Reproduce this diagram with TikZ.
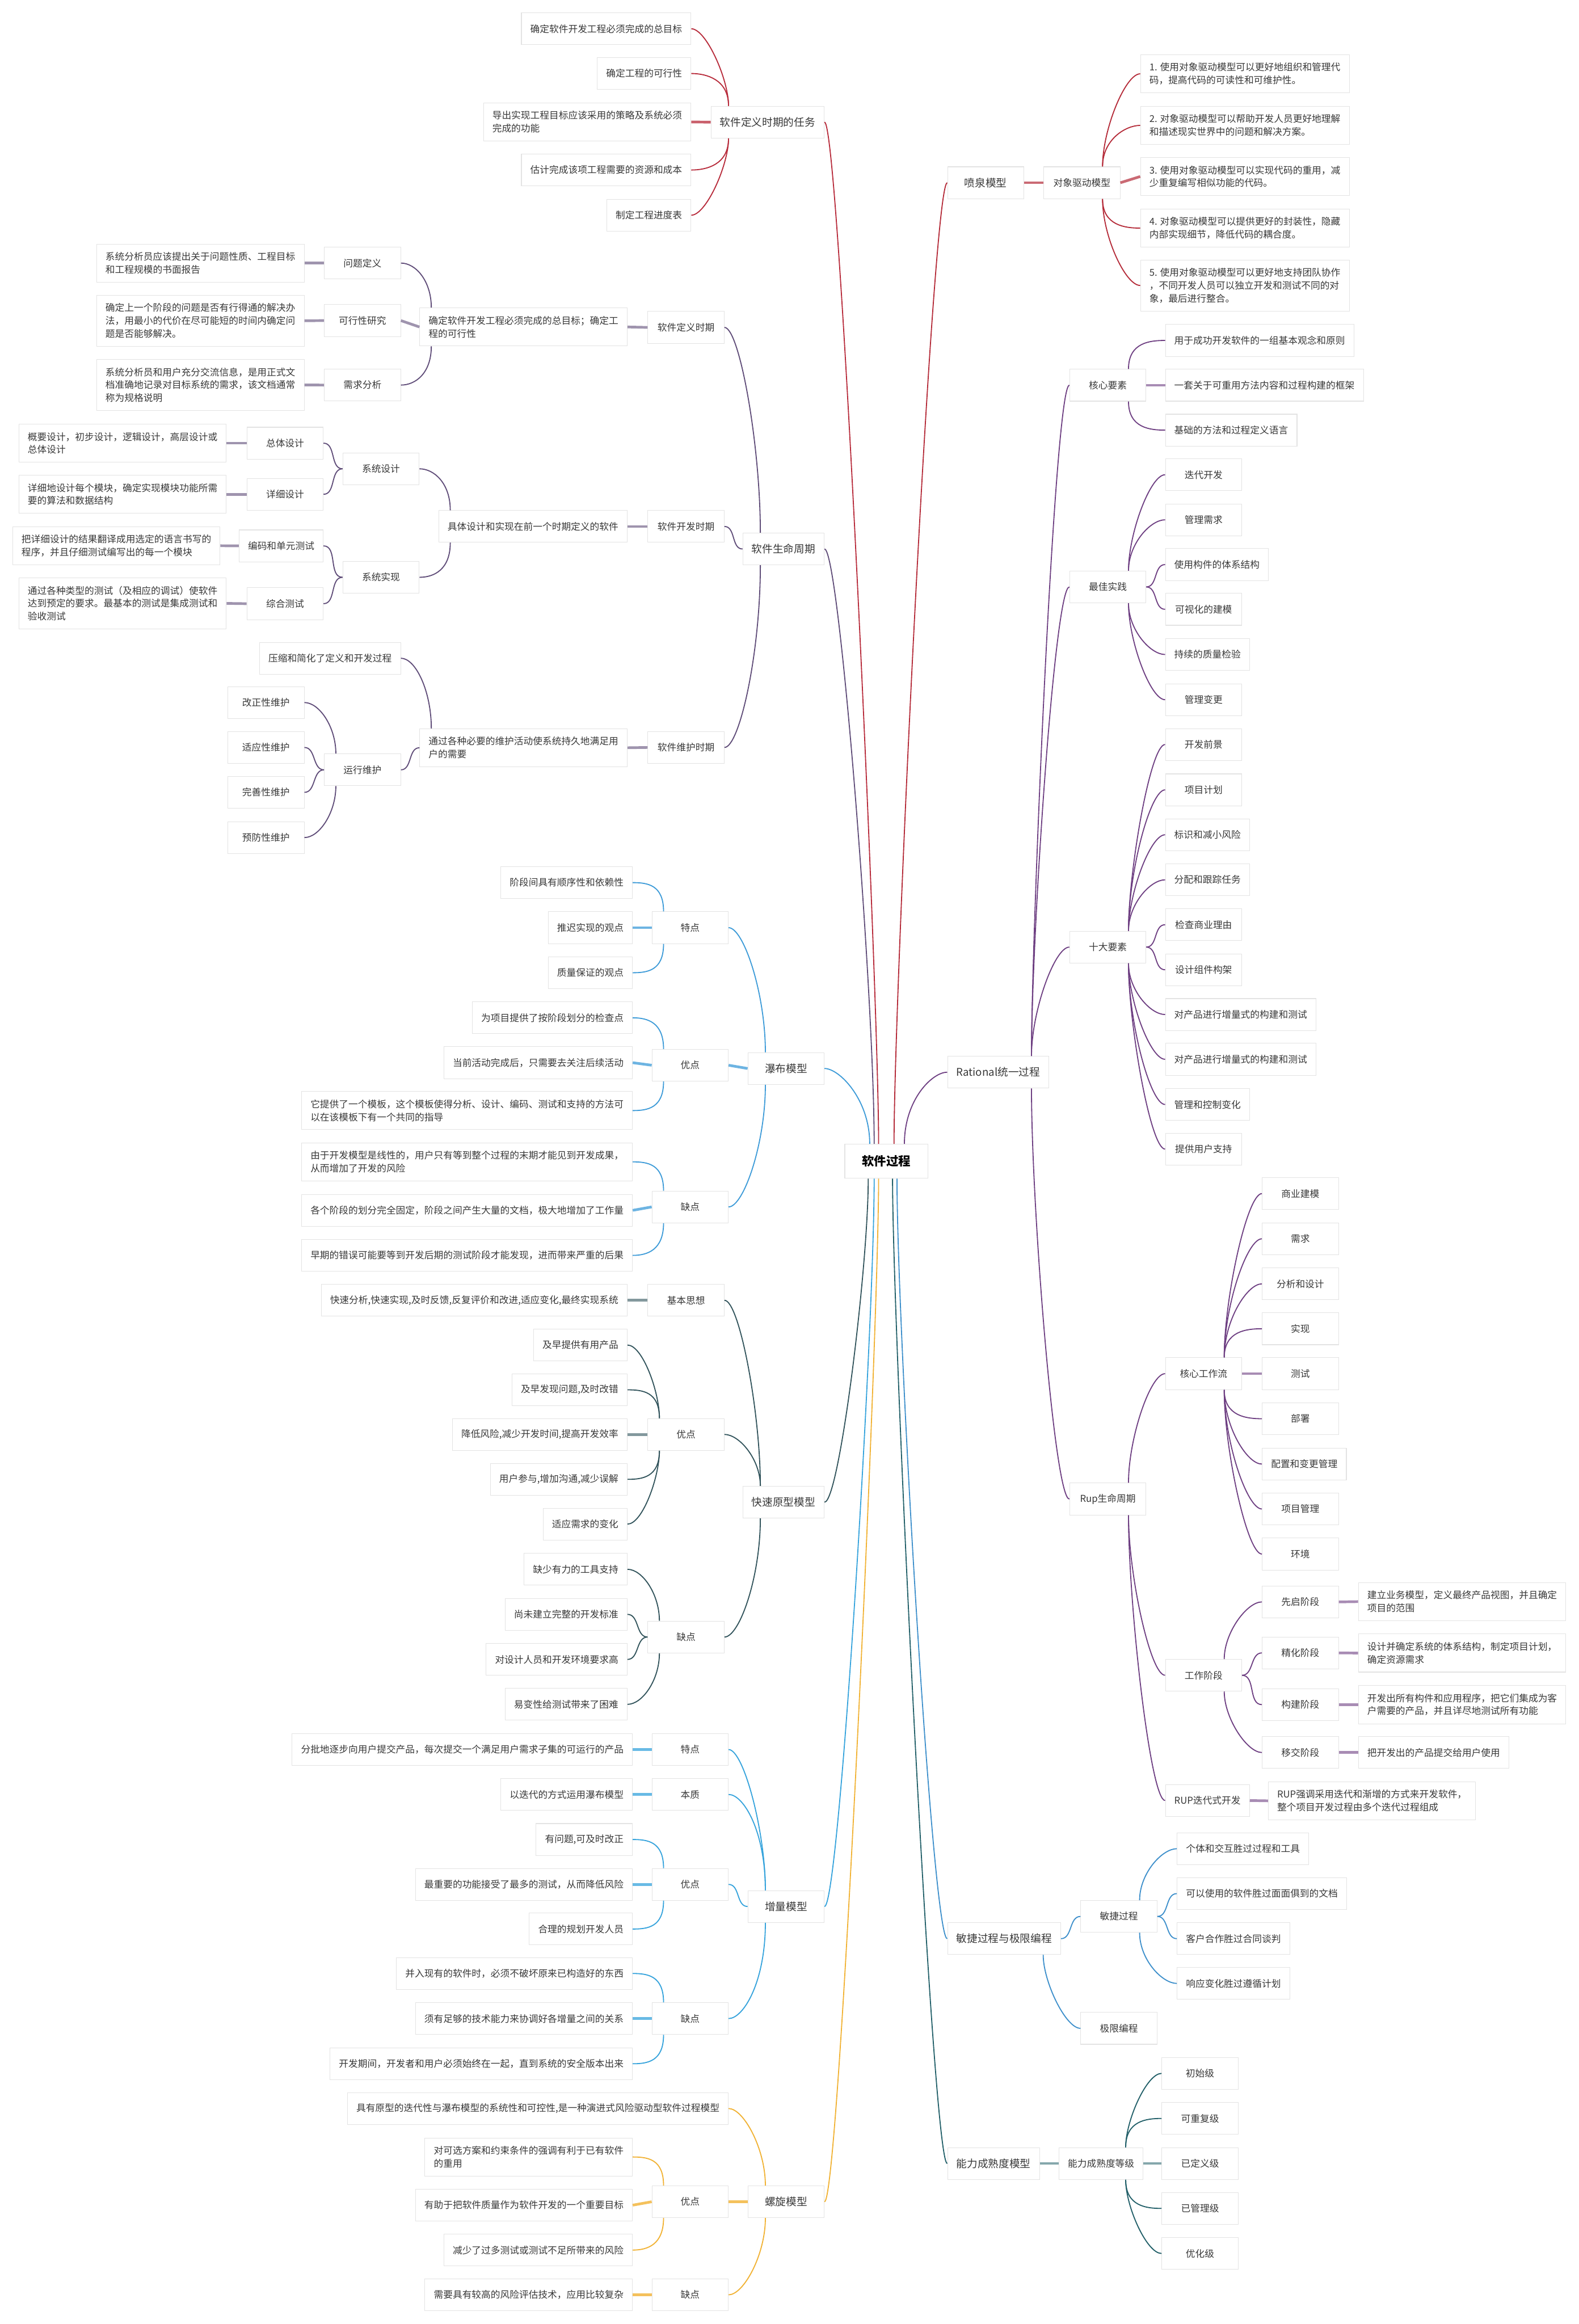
\documentclass[tikz,border=0pt]{standalone}
\usepackage{fontspec}
\newfontfamily\cjk{Noto Sans CJK SC}
\usetikzlibrary{positioning}

\definecolor{cDef}{HTML}{B72A3A}
\definecolor{cLife}{HTML}{5F4C78}
\definecolor{cWat}{HTML}{3D9BD8}
\definecolor{cProto}{HTML}{31535B}
\definecolor{cInc}{HTML}{35A3DC}
\definecolor{cSpi}{HTML}{F1B233}
\definecolor{cFou}{HTML}{B42A38}
\definecolor{cRat}{HTML}{6E3F82}
\definecolor{cAgi}{HTML}{3D8FCB}
\definecolor{cCmm}{HTML}{215F68}
\definecolor{boxln}{HTML}{E3E3E3}
\definecolor{txt}{HTML}{383838}

\begin{document}
\begin{tikzpicture}[x=1pt,y=1pt,
  nd/.style={draw=boxln,fill=white,text=txt,inner xsep=6pt,inner ysep=5.5pt,
    minimum height=21.5pt,minimum width=51.5pt,align=left,
    font=\cjk\fontsize{6.4}{8.7}\selectfont},
  br/.style={nd,font=\cjk\fontsize{7.15}{8.7}\selectfont},
  rt/.style={nd,text=black,minimum width=56pt,minimum height=23pt,
    font=\cjk\bfseries\fontsize{8.2}{9}\selectfont},
  le/.style={nd,anchor=east}, ri/.style={nd,anchor=west},
  lb/.style={br,anchor=east}, rb/.style={br,anchor=west},
  lu/.style={out=90,in=0,out distance=#1,in distance=10pt}, lu/.default=18pt,
  ld/.style={out=-90,in=0,out distance=#1,in distance=10pt}, ld/.default=18pt,
  ru/.style={out=90,in=180,out distance=#1,in distance=10pt}, ru/.default=18pt,
  rd/.style={out=-90,in=180,out distance=#1,in distance=10pt}, rd/.default=18pt,
  ln/.style={line width=0.7pt},
  thk/.style={line width=1.8pt}]
\path[use as bounding box,fill=white] (0,0) rectangle (1065,-1568);

\node[rt] (root) at (598,-783.5) {软件过程};

% software definition tasks
\node[lb] (dfn) at (556.3,-82.4) {软件定义时期的任务};
\node[le] (d1) at (466.4,-19.4) {确定软件开发工程必须完成的总目标};
\node[le] (d2) at (466.4,-49.6) {确定工程的可行性};
\node[le] (d3) at (466.4,-82.3) {导出实现工程目标应该采用的策略及系统必须\\完成的功能};
\node[le] (d4) at (466.4,-114.7) {估计完成该项工程需要的资源和成本};
\node[le] (d5) at (466.4,-145.2) {制定工程进度表};

% life cycle
\node[lb] (life) at (556.3,-370.4) {软件生命周期};
\node[le] (ldef) at (488.8,-220.9) {软件定义时期};
\node[le] (ldefx) at (423.4,-220.6) {确定软件开发工程必须完成的总目标；确定工\\程的可行性};
\node[le] (pd) at (270.5,-177.5) {问题定义};
\node[le] (pdx) at (205.4,-177.5) {系统分析员应该提出关于问题性质、工程目标\\和工程规模的书面报告};
\node[le] (fs) at (270.5,-216.3) {可行性研究};
\node[le] (fsx) at (205.4,-216.4) {确定上一个阶段的问题是否有行得通的解决办\\法，用最小的代价在尽可能短的时间内确定问\\题是否能够解决。};
\node[le] (ra) at (270.5,-259.8) {需求分析};
\node[le] (rax) at (205.4,-259.7) {系统分析员和用户充分交流信息，是用正式文\\档准确地记录对目标系统的需求，该文档通常\\称为规格说明};
\node[le] (ldev) at (488.8,-355.2) {软件开发时期};
\node[le] (ldevx) at (423.4,-355.2) {具体设计和实现在前一个时期定义的软件};
\node[le] (sd) at (283,-316.3) {系统设计};
\node[le] (od) at (218.3,-299) {总体设计};
\node[le] (odx) at (152.9,-299) {概要设计，初步设计，逻辑设计，高层设计或\\总体设计};
\node[le] (dd) at (218.3,-333.5) {详细设计};
\node[le] (ddx) at (152.9,-333.5) {详细地设计每个模块，确定实现模块功能所需\\要的算法和数据结构};
\node[le] (si) at (283,-389.5) {系统实现};
\node[le] (cu) at (218.3,-368.3) {编码和单元测试};
\node[le] (cux) at (148.7,-368.2) {把详细设计的结果翻译成用选定的语言书写的\\程序，并且仔细测试编写出的每一个模块};
\node[le] (it) at (218.3,-407.3) {综合测试};
\node[le] (itx) at (152.9,-407.1) {通过各种类型的测试（及相应的调试）使软件\\达到预定的要求。最基本的测试是集成测试和\\验收测试};
\node[le] (lmt) at (488.8,-504.3) {软件维护时期};
\node[le] (lmtx) at (423.4,-504.5) {通过各种必要的维护活动使系统持久地满足用\\户的需要};
\node[le] (cmp) at (270.5,-444.1) {压缩和简化了定义和开发过程};
\node[le] (om) at (270.5,-519.4) {运行维护};
\node[le] (m1) at (205.4,-474) {改正性维护};
\node[le] (m2) at (205.4,-504.3) {适应性维护};
\node[le] (m3) at (205.4,-534.6) {完善性维护};
\node[le] (m4) at (205.4,-565.1) {预防性维护};

% waterfall
\node[lb] (wat) at (556.3,-720.9) {瀑布模型};
\node[le] (wf) at (491.6,-625.9) {特点};
\node[le] (wf1) at (426.9,-595.5) {阶段间具有顺序性和依赖性};
\node[le] (wf2) at (426.9,-625.9) {推迟实现的观点};
\node[le] (wf3) at (426.9,-656.3) {质量保证的观点};
\node[le] (wa) at (491.6,-718.7) {优点};
\node[le] (wa1) at (426.9,-686.7) {为项目提供了按阶段划分的检查点};
\node[le] (wa2) at (426.9,-717) {当前活动完成后，只需要去关注后续活动};
\node[le] (wa3) at (426.9,-749.3) {它提供了一个模板，这个模板使得分析、设计、编码、测试和支持的方法可\\以在该模板下有一个共同的指导};
\node[le] (wd) at (491.6,-814.3) {缺点};
\node[le] (wd1) at (426.9,-783.9) {由于开发模型是线性的，用户只有等到整个过程的末期才能见到开发成果，\\从而增加了开发的风险};
\node[le] (wd2) at (426.9,-816.6) {各个阶段的划分完全固定，阶段之间产生大量的文档，极大地增加了工作量};
\node[le] (wd3) at (426.9,-847) {早期的错误可能要等到开发后期的测试阶段才能发现，进而带来严重的后果};

% rapid prototype
\node[lb] (proto) at (556.3,-1013.5) {快速原型模型};
\node[le] (pb) at (488.8,-877.3) {基本思想};
\node[le] (pb1) at (423.4,-877.3) {快速分析,快速实现,及时反馈,反复评价和改进,适应变化,最终实现系统};
\node[le] (pa) at (488.8,-967.8) {优点};
\node[le] (pa1) at (423.4,-907.5) {及早提供有用产品};
\node[le] (pa2) at (423.4,-937.7) {及早发现问题,及时改错};
\node[le] (pa3) at (423.4,-967.8) {降低风险,减少开发时间,提高开发效率};
\node[le] (pa4) at (423.4,-998.1) {用户参与,增加沟通,减少误解};
\node[le] (pa5) at (423.4,-1028.3) {适应需求的变化};
\node[le] (pw) at (488.8,-1104.5) {缺点};
\node[le] (pw1) at (423.4,-1058.8) {缺少有力的工具支持};
\node[le] (pw2) at (423.4,-1089.2) {尚未建立完整的开发标准};
\node[le] (pw3) at (423.4,-1119.6) {对设计人员和开发环境要求高};
\node[le] (pw4) at (423.4,-1149.9) {易变性给测试带来了困难};

% incremental
\node[lb] (inc) at (556.3,-1286.3) {增量模型};
\node[le] (nf) at (491.6,-1180.4) {特点};
\node[le] (nf1) at (426.9,-1180.4) {分批地逐步向用户提交产品，每次提交一个满足用户需求子集的可运行的产品};
\node[le] (ne) at (491.6,-1210.7) {本质};
\node[le] (ne1) at (426.9,-1210.7) {以迭代的方式运用瀑布模型};
\node[le] (na) at (491.6,-1271.4) {优点};
\node[le] (na1) at (426.9,-1241.1) {有问题,可及时改正};
\node[le] (na2) at (426.9,-1271.4) {最重要的功能接受了最多的测试，从而降低风险};
\node[le] (na3) at (426.9,-1301.5) {合理的规划开发人员};
\node[le] (nw) at (491.6,-1361.9) {缺点};
\node[le] (nw1) at (426.9,-1331.5) {并入现有的软件时，必须不破坏原来已构造好的东西};
\node[le] (nw2) at (426.9,-1361.9) {须有足够的技术能力来协调好各增量之间的关系};
\node[le] (nw3) at (426.9,-1392.4) {开发期间，开发者和用户必须始终在一起，直到系统的安全版本出来};

% spiral
\node[lb] (spi) at (556.3,-1485.5) {螺旋模型};
\node[le] (sx) at (491.6,-1422.6) {具有原型的迭代性与瀑布模型的系统性和可控性,是一种演进式风险驱动型软件过程模型};
\node[le] (sa) at (491.6,-1485.5) {优点};
\node[le] (sa1) at (426.9,-1455.3) {对可选方案和约束条件的强调有利于已有软件\\的重用};
\node[le] (sa2) at (426.9,-1487.8) {有助于把软件质量作为软件开发的一个重要目标};
\node[le] (sa3) at (426.9,-1518.1) {减少了过多测试或测试不足所带来的风险};
\node[le] (sw) at (491.6,-1548.3) {缺点};
\node[le] (sw1) at (426.9,-1548.3) {需要具有较高的风险评估技术，应用比较复杂};

% fountain
\node[rb] (fou) at (639.1,-123.3) {喷泉模型};
\node[ri] (obj) at (704,-123.3) {对象驱动模型};
\node[ri] (o1) at (769.3,-49.8) {1. 使用对象驱动模型可以更好地组织和管理代\\码，提高代码的可读性和可维护性。};
\node[ri] (o2) at (769.3,-84.6) {2. 对象驱动模型可以帮助开发人员更好地理解\\和描述现实世界中的问题和解决方案。};
\node[ri] (o3) at (769.3,-119.1) {3. 使用对象驱动模型可以实现代码的重用，减\\少重复编写相似功能的代码。};
\node[ri] (o4) at (769.3,-153.9) {4. 对象驱动模型可以提供更好的封装性，隐藏\\内部实现细节，降低代码的耦合度。};
\node[ri] (o5) at (769.3,-192.6) {5. 使用对象驱动模型可以更好地支持团队协作\\，不同开发人员可以独立开发和测试不同的对\\象，最后进行整合。};

% rational unified process
\node[rb] (rat) at (639.1,-723.4) {Rational统一过程};
\node[ri] (ck) at (721.5,-259.9) {核心要素};
\node[ri] (ck1) at (786.1,-229.7) {用于成功开发软件的一组基本观念和原则};
\node[ri] (ck2) at (786.1,-259.9) {一套关于可重用方法内容和过程构建的框架};
\node[ri] (ck3) at (786.1,-290.2) {基础的方法和过程定义语言};
\node[ri] (bp) at (721.5,-396) {最佳实践};
\node[ri] (bp1) at (786.1,-320.3) {迭代开发};
\node[ri] (bp2) at (786.1,-350.7) {管理需求};
\node[ri] (bp3) at (786.1,-380.9) {使用构件的体系结构};
\node[ri] (bp4) at (786.1,-411.1) {可视化的建模};
\node[ri] (bp5) at (786.1,-441.6) {持续的质量检验};
\node[ri] (bp6) at (786.1,-472.1) {管理变更};
\node[ri] (te) at (721.5,-639) {十大要素};
\node[ri] (te1) at (786.1,-502.3) {开发前景};
\node[ri] (te2) at (786.1,-532.9) {项目计划};
\node[ri] (te3) at (786.1,-563.2) {标识和减小风险};
\node[ri] (te4) at (786.1,-593.6) {分配和跟踪任务};
\node[ri] (te5) at (786.1,-623.9) {检查商业理由};
\node[ri] (te6) at (786.1,-654.3) {设计组件构架};
\node[ri] (te7) at (786.1,-684.5) {对产品进行增量式的构建和测试};
\node[ri] (te8) at (786.1,-714.7) {对产品进行增量式的构建和测试};
\node[ri] (te9) at (786.1,-745.2) {管理和控制变化};
\node[ri] (te10) at (786.1,-775.3) {提供用户支持};
\node[ri] (rup) at (721.5,-1011.4) {Rup生命周期};
\node[ri] (wfl) at (786.1,-926.8) {核心工作流};
\node[ri] (w1) at (851.4,-805.3) {商业建模};
\node[ri] (w2) at (851.4,-835.8) {需求};
\node[ri] (w3) at (851.4,-866.2) {分析和设计};
\node[ri] (w4) at (851.4,-896.5) {实现};
\node[ri] (w5) at (851.4,-926.8) {测试};
\node[ri] (w6) at (851.4,-957.2) {部署};
\node[ri] (w7) at (851.4,-987.8) {配置和变更管理};
\node[ri] (w8) at (851.4,-1018.1) {项目管理};
\node[ri] (w9) at (851.4,-1048.5) {环境};
\node[ri] (ph) at (786.1,-1130.3) {工作阶段};
\node[ri] (ph1) at (851.4,-1080.8) {先启阶段};
\node[ri] (ph1x) at (916.3,-1080.6) {建立业务模型，定义最终产品视图，并且确定\\项目的范围};
\node[ri] (ph2) at (851.4,-1115.2) {精化阶段};
\node[ri] (ph2x) at (916.3,-1115.3) {设计并确定系统的体系结构，制定项目计划，\\确定资源需求};
\node[ri] (ph3) at (851.4,-1150.1) {构建阶段};
\node[ri] (ph3x) at (916.3,-1150.1) {开发出所有构件和应用程序，把它们集成为客\\户需要的产品，并且详尽地测试所有功能};
\node[ri] (ph4) at (851.4,-1182.4) {移交阶段};
\node[ri] (ph4x) at (916.3,-1182.4) {把开发出的产品提交给用户使用};
\node[ri] (itd) at (786.1,-1214.8) {RUP迭代式开发};
\node[ri] (itdx) at (855.5,-1215) {RUP强调采用迭代和渐增的方式来开发软件，\\整个项目开发过程由多个迭代过程组成};

% agile
\node[rb] (agi) at (639.1,-1308) {敏捷过程与极限编程};
\node[ri] (ap) at (729,-1293) {敏捷过程};
\node[ri] (ap1) at (794,-1247.3) {个体和交互胜过过程和工具};
\node[ri] (ap2) at (794,-1277.6) {可以使用的软件胜过面面俱到的文档};
\node[ri] (ap3) at (794,-1308) {客户合作胜过合同谈判};
\node[ri] (ap4) at (794,-1338.2) {响应变化胜过遵循计划};
\node[ri] (xp) at (729,-1368.5) {极限编程};

% capability maturity
\node[rb] (cmm) at (639.1,-1459.7) {能力成熟度模型};
\node[ri] (cl) at (714.3,-1459.7) {能力成熟度等级};
\node[ri] (cl1) at (783.7,-1398.9) {初始级};
\node[ri] (cl2) at (783.7,-1429.3) {可重复级};
\node[ri] (cl3) at (783.7,-1459.7) {已定义级};
\node[ri] (cl4) at (783.7,-1490) {已管理级};
\node[ri] (cl5) at (783.7,-1520.4) {优化级};

% root links
\draw[cWat,ln] ([xshift=17pt]root.north west) to[lu=30pt] (wat.east);
\draw[cLife,ln] ([xshift=20pt]root.north west) to[lu=100pt] (life.east);
\draw[cDef,ln] ([xshift=23pt]root.north west) to[lu=100pt] (dfn.east);
\draw[cFou,ln] ([xshift=-23pt]root.north east) to[ru=100pt] (fou.west);
\draw[cRat,ln] ([xshift=-16pt]root.north east) to[ru=30pt] (rat.west);
\draw[cProto,ln] ([xshift=16pt]root.south west) to[ld=60pt] (proto.east);
\draw[cInc,ln] ([xshift=20pt]root.south west) to[ld=100pt] (inc.east);
\draw[cSpi,ln] ([xshift=23pt]root.south west) to[ld=100pt] (spi.east);
\draw[cAgi,ln] ([xshift=-21pt]root.south east) to[rd=100pt] (agi.west);
\draw[cCmm,ln] ([xshift=-24pt]root.south east) to[rd=100pt] (cmm.west);

% definition tasks
\draw[cDef,ln] ([xshift=12pt]dfn.north west) to[lu] (d1.east);
\draw[cDef,ln] ([xshift=12pt]dfn.north west) to[lu] (d2.east);
\draw[cDef!75,thk] (dfn.west) -- (d3.east);
\draw[cDef,ln] ([xshift=12pt]dfn.south west) to[ld] (d4.east);
\draw[cDef,ln] ([xshift=12pt]dfn.south west) to[ld] (d5.east);

% life cycle
\draw[cLife,ln] ([xshift=12pt]life.north west) to[lu=60pt] (ldef.east);
\draw[cLife,ln] (life.west) to[out=180,in=0] (ldev.east);
\draw[cLife,ln] ([xshift=12pt]life.south west) to[ld=60pt] (lmt.east);
\draw[cLife!60,thk] (ldef.west) -- (ldefx.east);
\draw[cLife,ln] ([xshift=8pt]ldefx.north west) to[lu] (pd.east);
\draw[cLife!60,thk] (ldefx.west) -- (fs.east);
\draw[cLife,ln] ([xshift=8pt]ldefx.south west) to[ld] (ra.east);
\draw[cLife!60,thk] (pd.west) -- (pdx.east);
\draw[cLife!60,thk] (fs.west) -- (fsx.east);
\draw[cLife!60,thk] (ra.west) -- (rax.east);
\draw[cLife!60,thk] (ldev.west) -- (ldevx.east);
\draw[cLife,ln] ([xshift=8pt]ldevx.north west) to[lu] (sd.east);
\draw[cLife,ln] ([xshift=8pt]ldevx.south west) to[ld] (si.east);
\draw[cLife,ln] (sd.west) to[out=180,in=0] (od.east);
\draw[cLife,ln] (sd.west) to[out=180,in=0] (dd.east);
\draw[cLife!60,thk] (od.west) -- (odx.east);
\draw[cLife!60,thk] (dd.west) -- (ddx.east);
\draw[cLife,ln] (si.west) to[out=180,in=0] (cu.east);
\draw[cLife,ln] (si.west) to[out=180,in=0] (it.east);
\draw[cLife!60,thk] (cu.west) -- (cux.east);
\draw[cLife!60,thk] (it.west) -- (itx.east);
\draw[cLife!60,thk] (lmt.west) -- (lmtx.east);
\draw[cLife,ln] ([xshift=8pt]lmtx.north west) to[lu=25pt] (cmp.east);
\draw[cLife,ln] (lmtx.west) to[out=180,in=0] (om.east);
\draw[cLife,ln] ([xshift=8pt]om.north west) to[lu] (m1.east);
\draw[cLife,ln] (om.west) to[out=180,in=0] (m2.east);
\draw[cLife,ln] (om.west) to[out=180,in=0] (m3.east);
\draw[cLife,ln] ([xshift=8pt]om.south west) to[ld] (m4.east);

% waterfall
\draw[cWat,ln] ([xshift=12pt]wat.north west) to[lu=40pt] (wf.east);
\draw[cWat!75,thk] (wat.west) -- (wa.east);
\draw[cWat,ln] ([xshift=12pt]wat.south west) to[ld=40pt] (wd.east);
\draw[cWat,ln] ([xshift=8pt]wf.north west) to[lu] (wf1.east);
\draw[cWat!75,thk] (wf.west) -- (wf2.east);
\draw[cWat,ln] ([xshift=8pt]wf.south west) to[ld] (wf3.east);
\draw[cWat,ln] ([xshift=8pt]wa.north west) to[lu] (wa1.east);
\draw[cWat!75,thk] (wa.west) -- (wa2.east);
\draw[cWat,ln] ([xshift=8pt]wa.south west) to[ld] (wa3.east);
\draw[cWat,ln] ([xshift=8pt]wd.north west) to[lu] (wd1.east);
\draw[cWat!75,thk] (wd.west) -- (wd2.east);
\draw[cWat,ln] ([xshift=8pt]wd.south west) to[ld] (wd3.east);

% rapid prototype
\draw[cProto,ln] ([xshift=12pt]proto.north west) to[lu=50pt] (pb.east);
\draw[cProto,ln] ([xshift=12pt]proto.north west) to[lu] (pa.east);
\draw[cProto,ln] ([xshift=12pt]proto.south west) to[ld=40pt] (pw.east);
\draw[cProto!60,thk] (pb.west) -- (pb1.east);
\draw[cProto,ln] ([xshift=8pt]pa.north west) to[lu] (pa1.east);
\draw[cProto,ln] ([xshift=8pt]pa.north west) to[lu] (pa2.east);
\draw[cProto!60,thk] (pa.west) -- (pa3.east);
\draw[cProto,ln] ([xshift=8pt]pa.south west) to[ld] (pa4.east);
\draw[cProto,ln] ([xshift=8pt]pa.south west) to[ld] (pa5.east);
\draw[cProto,ln] ([xshift=8pt]pw.north west) to[lu] (pw1.east);
\draw[cProto,ln] (pw.west) to[out=180,in=0] (pw2.east);
\draw[cProto,ln] (pw.west) to[out=180,in=0] (pw3.east);
\draw[cProto,ln] ([xshift=8pt]pw.south west) to[ld] (pw4.east);

% incremental
\draw[cInc,ln] ([xshift=12pt]inc.north west) to[lu=40pt] (nf.east);
\draw[cInc,ln] ([xshift=12pt]inc.north west) to[lu=40pt] (ne.east);
\draw[cInc,ln] (inc.west) to[out=180,in=0] (na.east);
\draw[cInc,ln] ([xshift=12pt]inc.south west) to[ld=40pt] (nw.east);
\draw[cInc!75,thk] (nf.west) -- (nf1.east);
\draw[cInc!75,thk] (ne.west) -- (ne1.east);
\draw[cInc,ln] ([xshift=8pt]na.north west) to[lu] (na1.east);
\draw[cInc!75,thk] (na.west) -- (na2.east);
\draw[cInc,ln] ([xshift=8pt]na.south west) to[ld] (na3.east);
\draw[cInc,ln] ([xshift=8pt]nw.north west) to[lu] (nw1.east);
\draw[cInc!75,thk] (nw.west) -- (nw2.east);
\draw[cInc,ln] ([xshift=8pt]nw.south west) to[ld] (nw3.east);

% spiral
\draw[cSpi,ln] ([xshift=12pt]spi.north west) to[lu=25pt] (sx.east);
\draw[cSpi!80,thk] (spi.west) -- (sa.east);
\draw[cSpi,ln] ([xshift=12pt]spi.south west) to[ld=25pt] (sw.east);
\draw[cSpi,ln] ([xshift=8pt]sa.north west) to[lu] (sa1.east);
\draw[cSpi!80,thk] (sa.west) -- (sa2.east);
\draw[cSpi,ln] ([xshift=8pt]sa.south west) to[ld] (sa3.east);
\draw[cSpi!80,thk] (sw.west) -- (sw1.east);

% fountain
\draw[cFou!70,thk] (fou.east) -- (obj.west);
\draw[cFou,ln] ([xshift=-12pt]obj.north east) to[ru=25pt] (o1.west);
\draw[cFou,ln] ([xshift=-12pt]obj.north east) to[ru] (o2.west);
\draw[cFou!70,thk] (obj.east) -- (o3.west);
\draw[cFou,ln] ([xshift=-12pt]obj.south east) to[rd] (o4.west);
\draw[cFou,ln] ([xshift=-12pt]obj.south east) to[rd=25pt] (o5.west);

% rational
\draw[cRat,ln] ([xshift=-12pt]rat.north east) to[ru=80pt] (ck.west);
\draw[cRat,ln] ([xshift=-12pt]rat.north east) to[ru=80pt] (bp.west);
\draw[cRat,ln] ([xshift=-12pt]rat.north east) to[ru=30pt] (te.west);
\draw[cRat,ln] ([xshift=-12pt]rat.south east) to[rd=80pt] (rup.west);
\draw[cRat,ln] ([xshift=-12pt]ck.north east) to[ru] (ck1.west);
\draw[cRat!60,thk] (ck.east) -- (ck2.west);
\draw[cRat,ln] ([xshift=-12pt]ck.south east) to[rd] (ck3.west);
\draw[cRat,ln] ([xshift=-12pt]bp.north east) to[ru=25pt] (bp1.west);
\draw[cRat,ln] ([xshift=-12pt]bp.north east) to[ru] (bp2.west);
\draw[cRat,ln] (bp.east) to[out=0,in=180] (bp3.west);
\draw[cRat,ln] (bp.east) to[out=0,in=180] (bp4.west);
\draw[cRat,ln] ([xshift=-12pt]bp.south east) to[rd] (bp5.west);
\draw[cRat,ln] ([xshift=-12pt]bp.south east) to[rd=25pt] (bp6.west);
\draw[cRat,ln] ([xshift=-12pt]te.north east) to[ru=40pt] (te1.west);
\draw[cRat,ln] ([xshift=-12pt]te.north east) to[ru=40pt] (te2.west);
\draw[cRat,ln] ([xshift=-12pt]te.north east) to[ru=25pt] (te3.west);
\draw[cRat,ln] ([xshift=-12pt]te.north east) to[ru] (te4.west);
\draw[cRat,ln] (te.east) to[out=0,in=180] (te5.west);
\draw[cRat,ln] (te.east) to[out=0,in=180] (te6.west);
\draw[cRat,ln] ([xshift=-12pt]te.south east) to[rd] (te7.west);
\draw[cRat,ln] ([xshift=-12pt]te.south east) to[rd=25pt] (te8.west);
\draw[cRat,ln] ([xshift=-12pt]te.south east) to[rd=40pt] (te9.west);
\draw[cRat,ln] ([xshift=-12pt]te.south east) to[rd=40pt] (te10.west);
\draw[cRat,ln] ([xshift=-12pt]rup.north east) to[ru=30pt] (wfl.west);
\draw[cRat,ln] ([xshift=-12pt]rup.south east) to[rd=40pt] (ph.west);
\draw[cRat,ln] ([xshift=-12pt]rup.south east) to[rd=60pt] (itd.west);
\draw[cRat,ln] ([xshift=-12pt]wfl.north east) to[ru=40pt] (w1.west);
\draw[cRat,ln] ([xshift=-12pt]wfl.north east) to[ru=35pt] (w2.west);
\draw[cRat,ln] ([xshift=-12pt]wfl.north east) to[ru=25pt] (w3.west);
\draw[cRat,ln] ([xshift=-12pt]wfl.north east) to[ru] (w4.west);
\draw[cRat!60,thk] (wfl.east) -- (w5.west);
\draw[cRat,ln] ([xshift=-12pt]wfl.south east) to[rd] (w6.west);
\draw[cRat,ln] ([xshift=-12pt]wfl.south east) to[rd=25pt] (w7.west);
\draw[cRat,ln] ([xshift=-12pt]wfl.south east) to[rd=35pt] (w8.west);
\draw[cRat,ln] ([xshift=-12pt]wfl.south east) to[rd=40pt] (w9.west);
\draw[cRat,ln] ([xshift=-12pt]ph.north east) to[ru] (ph1.west);
\draw[cRat,ln] (ph.east) to[out=0,in=180] (ph2.west);
\draw[cRat,ln] (ph.east) to[out=0,in=180] (ph3.west);
\draw[cRat,ln] ([xshift=-12pt]ph.south east) to[rd] (ph4.west);
\draw[cRat!60,thk] (ph1.east) -- (ph1x.west);
\draw[cRat!60,thk] (ph2.east) -- (ph2x.west);
\draw[cRat!60,thk] (ph3.east) -- (ph3x.west);
\draw[cRat!60,thk] (ph4.east) -- (ph4x.west);
\draw[cRat!60,thk] (itd.east) -- (itdx.west);

% agile
\draw[cAgi,ln] (agi.east) to[out=0,in=180] (ap.west);
\draw[cAgi,ln] ([xshift=-12pt]agi.south east) to[rd] (xp.west);
\draw[cAgi,ln] ([xshift=-12pt]ap.north east) to[ru] (ap1.west);
\draw[cAgi,ln] (ap.east) to[out=0,in=180] (ap2.west);
\draw[cAgi,ln] (ap.east) to[out=0,in=180] (ap3.west);
\draw[cAgi,ln] ([xshift=-12pt]ap.south east) to[rd] (ap4.west);

% capability maturity
\draw[cCmm!55,thk] (cmm.east) -- (cl.west);
\draw[cCmm,ln] ([xshift=-12pt]cl.north east) to[ru] (cl1.west);
\draw[cCmm,ln] ([xshift=-12pt]cl.north east) to[ru] (cl2.west);
\draw[cCmm!55,thk] (cl.east) -- (cl3.west);
\draw[cCmm,ln] ([xshift=-12pt]cl.south east) to[rd] (cl4.west);
\draw[cCmm,ln] ([xshift=-12pt]cl.south east) to[rd] (cl5.west);
\end{tikzpicture}
\end{document}
